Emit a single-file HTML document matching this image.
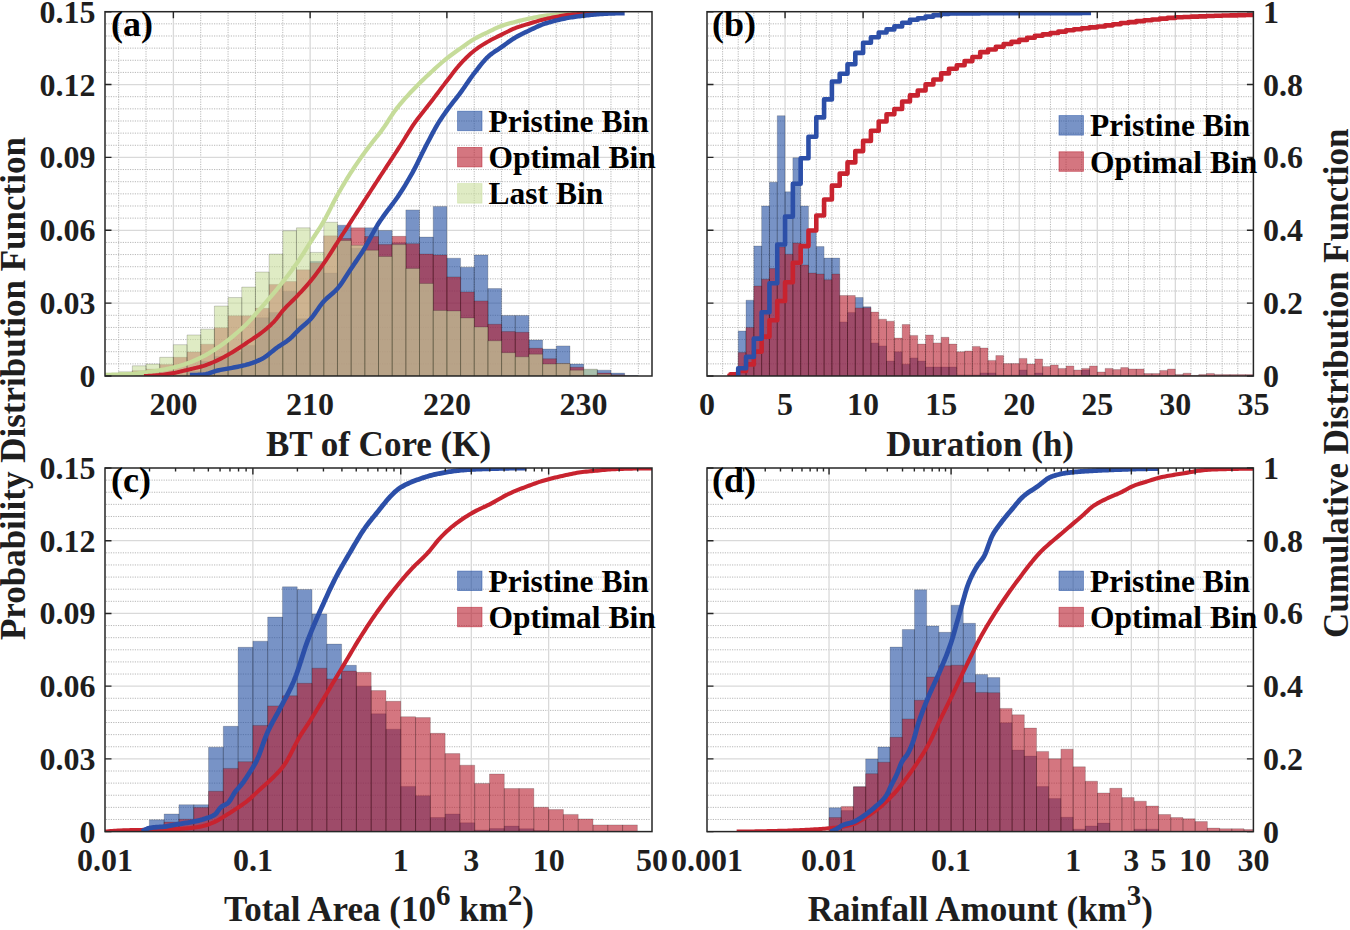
<!DOCTYPE html>
<html><head><meta charset="utf-8"><title>Figure</title>
<style>html,body{margin:0;padding:0;background:#fff;width:1350px;height:930px;overflow:hidden}svg{display:block}</style>
</head><body>
<svg width="1350" height="930" viewBox="0 0 1350 930" font-family="Liberation Serif" font-weight="bold">
<rect width="1350" height="930" fill="#fff"/>
<defs>
<clipPath id="ca"><rect x="105" y="11.7" width="547" height="364.3"/></clipPath>
<clipPath id="cb"><rect x="707" y="11.7" width="546.4" height="364.3"/></clipPath>
<clipPath id="cc"><rect x="105" y="468" width="547" height="363.6"/></clipPath>
<clipPath id="cd"><rect x="707" y="468" width="546.4" height="363.6"/></clipPath>
</defs>
<g stroke="#b8b8b8" stroke-width="1" stroke-dasharray="1.2 1.2" fill="none"><line x1="106" y1="363.86" x2="650" y2="363.86"/><line x1="106" y1="351.71" x2="650" y2="351.71"/><line x1="106" y1="339.57" x2="650" y2="339.57"/><line x1="106" y1="327.43" x2="650" y2="327.43"/><line x1="106" y1="315.28" x2="650" y2="315.28"/><line x1="106" y1="291" x2="650" y2="291"/><line x1="106" y1="278.85" x2="650" y2="278.85"/><line x1="106" y1="266.71" x2="650" y2="266.71"/><line x1="106" y1="254.57" x2="650" y2="254.57"/><line x1="106" y1="242.42" x2="650" y2="242.42"/><line x1="106" y1="218.14" x2="650" y2="218.14"/><line x1="106" y1="205.99" x2="650" y2="205.99"/><line x1="106" y1="193.85" x2="650" y2="193.85"/><line x1="106" y1="181.71" x2="650" y2="181.71"/><line x1="106" y1="169.56" x2="650" y2="169.56"/><line x1="106" y1="145.28" x2="650" y2="145.28"/><line x1="106" y1="133.13" x2="650" y2="133.13"/><line x1="106" y1="120.99" x2="650" y2="120.99"/><line x1="106" y1="108.85" x2="650" y2="108.85"/><line x1="106" y1="96.7" x2="650" y2="96.7"/><line x1="106" y1="72.42" x2="650" y2="72.42"/><line x1="106" y1="60.27" x2="650" y2="60.27"/><line x1="106" y1="48.13" x2="650" y2="48.13"/><line x1="106" y1="35.99" x2="650" y2="35.99"/><line x1="106" y1="23.84" x2="650" y2="23.84"/><line x1="118.67" y1="12.7" x2="118.67" y2="375"/><line x1="146.03" y1="12.7" x2="146.03" y2="375"/><line x1="200.72" y1="12.7" x2="200.72" y2="375"/><line x1="228.07" y1="12.7" x2="228.07" y2="375"/><line x1="255.43" y1="12.7" x2="255.43" y2="375"/><line x1="282.77" y1="12.7" x2="282.77" y2="375"/><line x1="337.48" y1="12.7" x2="337.48" y2="375"/><line x1="364.82" y1="12.7" x2="364.82" y2="375"/><line x1="392.18" y1="12.7" x2="392.18" y2="375"/><line x1="419.52" y1="12.7" x2="419.52" y2="375"/><line x1="474.23" y1="12.7" x2="474.23" y2="375"/><line x1="501.57" y1="12.7" x2="501.57" y2="375"/><line x1="528.92" y1="12.7" x2="528.92" y2="375"/><line x1="556.27" y1="12.7" x2="556.27" y2="375"/><line x1="610.98" y1="12.7" x2="610.98" y2="375"/><line x1="638.33" y1="12.7" x2="638.33" y2="375"/></g>
<g stroke="#d9d9d9" stroke-width="1.3" fill="none"><line x1="106" y1="303.14" x2="650" y2="303.14"/><line x1="106" y1="230.28" x2="650" y2="230.28"/><line x1="106" y1="157.42" x2="650" y2="157.42"/><line x1="106" y1="84.56" x2="650" y2="84.56"/><line x1="173.38" y1="12.7" x2="173.38" y2="375"/><line x1="310.12" y1="12.7" x2="310.12" y2="375"/><line x1="446.88" y1="12.7" x2="446.88" y2="375"/><line x1="583.62" y1="12.7" x2="583.62" y2="375"/></g>
<g clip-path="url(#ca)">
<path d="M173.38 376V374.79H187.05V376ZM187.05 376V371.14H200.72V376ZM200.72 376V361.43H214.4V376ZM214.4 376V356.57H228.07V376ZM228.07 376V351.71H241.75V376ZM241.75 376V345.4H255.43V376ZM255.43 376V317.71H269.1V376ZM269.1 376V312.61H282.77V376ZM282.77 376V291.24H296.45V376ZM296.45 376V318.68H310.12V376ZM310.12 376V261.37H323.8V376ZM323.8 376V273.02H337.48V376ZM337.48 376V225.18H351.15V376ZM351.15 376V248.25H364.82V376ZM364.82 376V227.85H378.5V376ZM378.5 376V230.52H392.18V376ZM392.18 376V242.67H405.85V376ZM405.85 376V209.88H419.52V376ZM419.52 376V237.08H433.2V376ZM433.2 376V206.48H446.88V376ZM446.88 376V258.21H460.55V376ZM460.55 376V267.2H474.23V376ZM474.23 376V255.05H487.9V376ZM487.9 376V288.57H501.57V376ZM501.57 376V315.53H515.25V376ZM515.25 376V315.53H528.92V376ZM528.92 376V340.06H542.6V376ZM542.6 376V349.04H556.27V376ZM556.27 376V345.88H569.95V376ZM569.95 376V364.1H583.62V376ZM583.62 376V369.69H597.3V376ZM597.3 376V370.17H610.98V376ZM610.98 376V373.09H624.65V376ZM624.65 376V375.51H638.33V376Z" fill="#1e4ba0" fill-opacity="0.6" stroke="#000" stroke-opacity="0.2" stroke-width="0.9"/>
<path d="M118.67 376V375.03H132.35V376ZM132.35 376V370.66H146.03V376ZM146.03 376V369.2H159.7V376ZM159.7 376V364.59H173.38V376ZM173.38 376V357.3H187.05V376ZM187.05 376V351.96H200.72V376ZM200.72 376V344.18H214.4V376ZM214.4 376V327.67H228.07V376ZM228.07 376V315.77H241.75V376ZM241.75 376V315.77H255.43V376ZM255.43 376V308.24H269.1V376ZM269.1 376V284.44H282.77V376ZM282.77 376V281.52H296.45V376ZM296.45 376V269.87H310.12V376ZM310.12 376V262.82H323.8V376ZM323.8 376V235.87H337.48V376ZM337.48 376V238.54H351.15V376ZM351.15 376V227.85H364.82V376ZM364.82 376V236.59H378.5V376ZM378.5 376V244.61H392.18V376ZM392.18 376V236.35H405.85V376ZM405.85 376V243.64H419.52V376ZM419.52 376V254.08H433.2V376ZM433.2 376V255.05H446.88V376ZM446.88 376V276.91H460.55V376ZM460.55 376V291.97H474.23V376ZM474.23 376V300.95H487.9V376ZM487.9 376V324.27H501.57V376ZM501.57 376V331.56H515.25V376ZM515.25 376V332.28H528.92V376ZM528.92 376V348.31H542.6V376ZM542.6 376V358.76H556.27V376ZM556.27 376V363.61H569.95V376ZM569.95 376V367.26H583.62V376ZM583.62 376V375.03H597.3V376ZM597.3 376V373.09H610.98V376ZM610.98 376V374.79H624.65V376Z" fill="#b71b2b" fill-opacity="0.6" stroke="#000" stroke-opacity="0.2" stroke-width="0.9"/>
<path d="M105 376V373.33H118.67V376ZM118.67 376V371.87H132.35V376ZM132.35 376V365.8H146.03V376ZM146.03 376V364.1H159.7V376ZM159.7 376V357.3H173.38V376ZM173.38 376V344.67H187.05V376ZM187.05 376V334.96H200.72V376ZM200.72 376V329.13H214.4V376ZM214.4 376V306.05H228.07V376ZM228.07 376V297.55H241.75V376ZM241.75 376V287.11H255.43V376ZM255.43 376V272.05H269.1V376ZM269.1 376V254.08H282.77V376ZM282.77 376V230.77H296.45V376ZM296.45 376V227.85H310.12V376ZM310.12 376V252.38H323.8V376ZM323.8 376V222.27H337.48V376ZM337.48 376V240.48H351.15V376ZM351.15 376V245.34H364.82V376ZM364.82 376V250.2H378.5V376ZM378.5 376V256.51H392.18V376ZM392.18 376V244.61H405.85V376ZM405.85 376V268.41H419.52V376ZM419.52 376V283.47H433.2V376ZM433.2 376V310.43H446.88V376ZM446.88 376V310.91H460.55V376ZM460.55 376V317.95H474.23V376ZM474.23 376V326.94H487.9V376ZM487.9 376V340.78H501.57V376ZM501.57 376V352.68H515.25V376ZM515.25 376V356.81H528.92V376ZM528.92 376V354.14H542.6V376ZM542.6 376V364.1H556.27V376ZM556.27 376V363.61H569.95V376ZM569.95 376V370.17H583.62V376ZM583.62 376V369.2H597.3V376ZM597.3 376V374.3H610.98V376ZM610.98 376V375.51H624.65V376Z" fill="#cade9d" fill-opacity="0.6" stroke="#000" stroke-opacity="0.2" stroke-width="0.9"/>
<path d="M105.41 374.8 L107.12 374.79 L108.84 374.78 L110.55 374.76 L112.27 374.72 L113.98 374.69 L115.69 374.64 L117.41 374.59 L119.12 374.53 L120.83 374.47 L122.55 374.4 L124.26 374.33 L125.97 374.25 L127.69 374.18 L129.4 374.1 L131.12 373.99 L132.83 373.86 L134.54 373.71 L136.26 373.53 L137.97 373.34 L139.68 373.14 L141.4 372.93 L143.11 372.72 L144.83 372.51 L146.54 372.29 L148.25 372.06 L149.97 371.81 L151.68 371.56 L153.39 371.29 L155.11 371.02 L156.82 370.74 L158.54 370.45 L160.25 370.15 L161.96 369.84 L163.68 369.53 L165.39 369.2 L167.1 368.85 L168.82 368.5 L170.53 368.12 L172.25 367.73 L173.96 367.33 L175.67 366.9 L177.39 366.45 L179.1 365.98 L180.81 365.48 L182.53 364.96 L184.24 364.42 L185.96 363.85 L187.67 363.26 L189.38 362.64 L191.1 361.98 L192.81 361.29 L194.52 360.55 L196.24 359.79 L197.95 358.99 L199.66 358.16 L201.38 357.32 L203.09 356.45 L204.81 355.55 L206.52 354.61 L208.23 353.63 L209.95 352.61 L211.66 351.57 L213.37 350.49 L215.09 349.39 L216.8 348.26 L218.52 347.12 L220.23 345.94 L221.94 344.73 L223.66 343.48 L225.37 342.2 L227.08 340.89 L228.8 339.56 L230.51 338.2 L232.23 336.81 L233.94 335.4 L235.65 333.97 L237.37 332.51 L239.08 331.02 L240.79 329.49 L242.51 327.93 L244.22 326.32 L245.94 324.67 L247.65 322.98 L249.36 321.2 L251.08 319.32 L252.79 317.38 L254.5 315.4 L256.22 313.41 L257.93 311.42 L259.65 309.46 L261.36 307.53 L263.07 305.59 L264.79 303.65 L266.5 301.7 L268.21 299.72 L269.93 297.71 L271.64 295.67 L273.35 293.62 L275.07 291.55 L276.78 289.46 L278.5 287.35 L280.21 285.22 L281.92 283.06 L283.64 280.88 L285.35 278.69 L287.06 276.48 L288.78 274.25 L290.49 271.99 L292.21 269.7 L293.92 267.36 L295.63 264.98 L297.35 262.53 L299.06 260.01 L300.77 257.42 L302.49 254.77 L304.2 252.08 L305.92 249.37 L307.63 246.66 L309.34 243.96 L311.06 241.28 L312.77 238.64 L314.48 236.02 L316.2 233.41 L317.91 230.76 L319.63 228.07 L321.34 225.31 L323.05 222.45 L324.77 219.47 L326.48 216.3 L328.19 212.99 L329.91 209.6 L331.62 206.18 L333.33 202.77 L335.05 199.44 L336.76 196.23 L338.48 193.17 L340.19 190.17 L341.9 187.22 L343.62 184.32 L345.33 181.47 L347.04 178.66 L348.76 175.9 L350.47 173.19 L352.19 170.53 L353.9 167.91 L355.61 165.34 L357.33 162.82 L359.04 160.34 L360.75 157.9 L362.47 155.49 L364.18 153.11 L365.9 150.76 L367.61 148.43 L369.32 146.15 L371.04 143.94 L372.75 141.78 L374.46 139.65 L376.18 137.52 L377.89 135.37 L379.61 133.18 L381.32 130.93 L383.03 128.6 L384.75 126.13 L386.46 123.54 L388.17 120.89 L389.89 118.22 L391.6 115.59 L393.32 113.04 L395.03 110.63 L396.74 108.39 L398.46 106.23 L400.17 104.13 L401.88 102.1 L403.6 100.12 L405.31 98.18 L407.02 96.28 L408.74 94.4 L410.45 92.55 L412.17 90.73 L413.88 88.93 L415.59 87.17 L417.31 85.43 L419.02 83.72 L420.73 82.04 L422.45 80.37 L424.16 78.72 L425.88 77.09 L427.59 75.48 L429.3 73.87 L431.02 72.27 L432.73 70.68 L434.44 69.1 L436.16 67.53 L437.87 65.99 L439.59 64.47 L441.3 62.97 L443.01 61.51 L444.73 60.08 L446.44 58.68 L448.15 57.32 L449.87 56 L451.58 54.72 L453.3 53.47 L455.01 52.23 L456.72 51.02 L458.44 49.81 L460.15 48.6 L461.86 47.39 L463.58 46.17 L465.29 44.94 L467.01 43.73 L468.72 42.54 L470.43 41.38 L472.15 40.28 L473.86 39.24 L475.57 38.26 L477.29 37.32 L479 36.43 L480.71 35.57 L482.43 34.73 L484.14 33.91 L485.86 33.09 L487.57 32.28 L489.28 31.47 L491 30.64 L492.71 29.8 L494.42 28.97 L496.14 28.17 L497.85 27.4 L499.57 26.67 L501.28 26.01 L502.99 25.42 L504.71 24.86 L506.42 24.33 L508.13 23.82 L509.85 23.34 L511.56 22.88 L513.28 22.42 L514.99 21.97 L516.7 21.52 L518.42 21.08 L520.13 20.65 L521.84 20.23 L523.56 19.82 L525.27 19.42 L526.99 19.04 L528.7 18.67 L530.41 18.31 L532.13 17.95 L533.84 17.6 L535.55 17.26 L537.27 16.94 L538.98 16.63 L540.7 16.35 L542.41 16.1 L544.12 15.87 L545.84 15.65 L547.55 15.43 L549.26 15.24 L550.98 15.05 L552.69 14.89 L554.4 14.74 L556.12 14.62 L557.83 14.52 L559.55 14.43 L561.26 14.34 L562.97 14.26 L564.69 14.18 L566.4 14.11 L568.11 14.05 L569.83 13.98 L571.54 13.92 L573.26 13.87 L574.97 13.81 L576.68 13.75 L578.4 13.7 L580.11 13.64 L581.82 13.58 L583.54 13.52 L585.25 13.46 L586.97 13.4 L588.68 13.34 L590.39 13.28 L592.11 13.23 L593.82 13.17 L595.53 13.11 L597.25 13.05 L598.96 13 L600.68 12.94 L602.39 12.89 L604.1 12.83 L605.82 12.78 L607.53 12.73 L609.24 12.68 L610.96 12.62 L612.67 12.57 L614.39 12.52 L616.1 12.48 L617.81 12.43" fill="none" stroke="#c6dc9a" stroke-width="4.2" stroke-linejoin="round" stroke-linecap="butt"/>
<path d="M143.97 376 L145.54 375.96 L147.12 375.9 L148.69 375.82 L150.26 375.74 L151.83 375.64 L153.4 375.53 L154.97 375.41 L156.54 375.28 L158.11 375.15 L159.68 375.02 L161.26 374.86 L162.83 374.68 L164.4 374.48 L165.97 374.26 L167.54 374.03 L169.11 373.78 L170.68 373.52 L172.25 373.26 L173.82 372.98 L175.39 372.69 L176.97 372.36 L178.54 372.01 L180.11 371.64 L181.68 371.26 L183.25 370.87 L184.82 370.47 L186.39 370.08 L187.96 369.7 L189.53 369.32 L191.1 368.96 L192.68 368.6 L194.25 368.25 L195.82 367.88 L197.39 367.51 L198.96 367.12 L200.53 366.71 L202.1 366.27 L203.67 365.8 L205.24 365.29 L206.81 364.75 L208.39 364.16 L209.96 363.55 L211.53 362.91 L213.1 362.25 L214.67 361.56 L216.24 360.86 L217.81 360.14 L219.38 359.4 L220.95 358.62 L222.52 357.8 L224.1 356.96 L225.67 356.09 L227.24 355.2 L228.81 354.29 L230.38 353.36 L231.95 352.43 L233.52 351.48 L235.09 350.52 L236.66 349.52 L238.24 348.5 L239.81 347.47 L241.38 346.42 L242.95 345.36 L244.52 344.3 L246.09 343.23 L247.66 342.17 L249.23 341.12 L250.8 340.09 L252.37 339.06 L253.95 338.02 L255.52 336.97 L257.09 335.9 L258.66 334.81 L260.23 333.67 L261.8 332.49 L263.37 331.26 L264.94 329.99 L266.51 328.68 L268.08 327.33 L269.66 325.91 L271.23 324.44 L272.8 322.9 L274.37 321.28 L275.94 319.49 L277.51 317.51 L279.08 315.43 L280.65 313.35 L282.22 311.36 L283.79 309.53 L285.37 307.83 L286.94 306.19 L288.51 304.61 L290.08 303.06 L291.65 301.52 L293.22 299.97 L294.79 298.4 L296.36 296.78 L297.93 295.12 L299.51 293.45 L301.08 291.78 L302.65 290.09 L304.22 288.37 L305.79 286.63 L307.36 284.85 L308.93 283.03 L310.5 281.16 L312.07 279.23 L313.64 277.25 L315.22 275.22 L316.79 273.15 L318.36 271.03 L319.93 268.88 L321.5 266.69 L323.07 264.47 L324.64 262.22 L326.21 259.89 L327.78 257.51 L329.35 255.07 L330.93 252.61 L332.5 250.13 L334.07 247.64 L335.64 245.16 L337.21 242.71 L338.78 240.28 L340.35 237.86 L341.92 235.43 L343.49 233 L345.06 230.57 L346.64 228.15 L348.21 225.72 L349.78 223.29 L351.35 220.87 L352.92 218.44 L354.49 216.01 L356.06 213.58 L357.63 211.16 L359.2 208.73 L360.78 206.3 L362.35 203.87 L363.92 201.45 L365.49 199.02 L367.06 196.59 L368.63 194.16 L370.2 191.73 L371.77 189.29 L373.34 186.86 L374.91 184.44 L376.49 182.01 L378.06 179.6 L379.63 177.18 L381.2 174.78 L382.77 172.38 L384.34 169.99 L385.91 167.61 L387.48 165.22 L389.05 162.84 L390.62 160.45 L392.2 158.06 L393.77 155.66 L395.34 153.26 L396.91 150.85 L398.48 148.43 L400.05 146 L401.62 143.53 L403.19 141.01 L404.76 138.46 L406.33 135.91 L407.91 133.36 L409.48 130.84 L411.05 128.36 L412.62 125.95 L414.19 123.63 L415.76 121.4 L417.33 119.26 L418.9 117.19 L420.47 115.17 L422.05 113.19 L423.62 111.24 L425.19 109.29 L426.76 107.33 L428.33 105.36 L429.9 103.34 L431.47 101.29 L433.04 99.22 L434.61 97.13 L436.18 95.04 L437.76 92.94 L439.33 90.84 L440.9 88.75 L442.47 86.67 L444.04 84.6 L445.61 82.55 L447.18 80.52 L448.75 78.48 L450.32 76.42 L451.89 74.36 L453.47 72.31 L455.04 70.3 L456.61 68.33 L458.18 66.43 L459.75 64.62 L461.32 62.89 L462.89 61.22 L464.46 59.59 L466.03 58.01 L467.6 56.47 L469.18 54.99 L470.75 53.57 L472.32 52.22 L473.89 50.94 L475.46 49.74 L477.03 48.59 L478.6 47.48 L480.17 46.42 L481.74 45.4 L483.31 44.41 L484.89 43.45 L486.46 42.52 L488.03 41.61 L489.6 40.71 L491.17 39.85 L492.74 39.03 L494.31 38.22 L495.88 37.44 L497.45 36.67 L499.03 35.9 L500.6 35.13 L502.17 34.36 L503.74 33.56 L505.31 32.76 L506.88 31.96 L508.45 31.16 L510.02 30.39 L511.59 29.65 L513.16 28.95 L514.74 28.29 L516.31 27.7 L517.88 27.14 L519.45 26.61 L521.02 26.11 L522.59 25.62 L524.16 25.15 L525.73 24.68 L527.3 24.21 L528.87 23.74 L530.45 23.25 L532.02 22.77 L533.59 22.28 L535.16 21.8 L536.73 21.33 L538.3 20.87 L539.87 20.43 L541.44 20.01 L543.01 19.61 L544.58 19.24 L546.16 18.87 L547.73 18.52 L549.3 18.18 L550.87 17.85 L552.44 17.53 L554.01 17.22 L555.58 16.93 L557.15 16.64 L558.72 16.35 L560.3 16.06 L561.87 15.77 L563.44 15.5 L565.01 15.25 L566.58 15.01 L568.15 14.81 L569.72 14.64 L571.29 14.49 L572.86 14.36 L574.43 14.25 L576.01 14.14 L577.58 14.04 L579.15 13.95 L580.72 13.86 L582.29 13.77 L583.86 13.69 L585.43 13.61 L587 13.53 L588.57 13.44 L590.14 13.37 L591.72 13.29 L593.29 13.21 L594.86 13.14 L596.43 13.06 L598 12.99 L599.57 12.92 L601.14 12.86 L602.71 12.79 L604.28 12.73 L605.85 12.67 L607.43 12.62 L609 12.57 L610.57 12.52 L612.14 12.47 L613.71 12.43" fill="none" stroke="#c8232f" stroke-width="4.0" stroke-linejoin="round" stroke-linecap="butt"/>
<path d="M189.92 375.09 L191.38 375.08 L192.83 375.06 L194.28 375.02 L195.74 374.97 L197.19 374.91 L198.65 374.84 L200.1 374.75 L201.55 374.66 L203.01 374.56 L204.46 374.42 L205.92 374.16 L207.37 373.81 L208.82 373.38 L210.28 372.89 L211.73 372.38 L213.18 371.87 L214.64 371.37 L216.09 370.91 L217.55 370.52 L219 370.19 L220.45 369.9 L221.91 369.62 L223.36 369.36 L224.82 369.11 L226.27 368.87 L227.72 368.63 L229.18 368.38 L230.63 368.12 L232.09 367.85 L233.54 367.56 L234.99 367.27 L236.45 366.98 L237.9 366.69 L239.36 366.4 L240.81 366.09 L242.26 365.77 L243.72 365.43 L245.17 365.08 L246.63 364.69 L248.08 364.29 L249.53 363.85 L250.99 363.38 L252.44 362.89 L253.9 362.36 L255.35 361.8 L256.8 361.2 L258.26 360.57 L259.71 359.91 L261.16 359.21 L262.62 358.47 L264.07 357.64 L265.53 356.69 L266.98 355.64 L268.43 354.52 L269.89 353.34 L271.34 352.14 L272.8 350.93 L274.25 349.74 L275.7 348.59 L277.16 347.51 L278.61 346.5 L280.07 345.54 L281.52 344.6 L282.97 343.68 L284.43 342.75 L285.88 341.77 L287.34 340.75 L288.79 339.65 L290.24 338.43 L291.7 337.08 L293.15 335.63 L294.61 334.12 L296.06 332.58 L297.51 331.07 L298.97 329.61 L300.42 328.24 L301.88 326.96 L303.33 325.72 L304.78 324.49 L306.24 323.25 L307.69 321.94 L309.14 320.54 L310.6 319.02 L312.05 317.29 L313.51 315.39 L314.96 313.37 L316.41 311.28 L317.87 309.16 L319.32 307.07 L320.78 305.05 L322.23 303.16 L323.68 301.45 L325.14 299.92 L326.59 298.52 L328.05 297.22 L329.5 295.97 L330.95 294.75 L332.41 293.51 L333.86 292.23 L335.32 290.85 L336.77 289.35 L338.22 287.69 L339.68 285.85 L341.13 283.87 L342.59 281.76 L344.04 279.56 L345.49 277.31 L346.95 275.03 L348.4 272.74 L349.86 270.49 L351.31 268.29 L352.76 266.14 L354.22 264.01 L355.67 261.87 L357.12 259.73 L358.58 257.57 L360.03 255.38 L361.49 253.15 L362.94 250.87 L364.39 248.53 L365.85 246.08 L367.3 243.51 L368.76 240.86 L370.21 238.15 L371.66 235.43 L373.12 232.73 L374.57 230.07 L376.03 227.51 L377.48 225.07 L378.93 222.77 L380.39 220.56 L381.84 218.44 L383.3 216.38 L384.75 214.37 L386.2 212.4 L387.66 210.47 L389.11 208.55 L390.57 206.63 L392.02 204.71 L393.47 202.76 L394.93 200.78 L396.38 198.76 L397.84 196.67 L399.29 194.52 L400.74 192.29 L402.2 190.02 L403.65 187.7 L405.1 185.33 L406.56 182.92 L408.01 180.47 L409.47 177.96 L410.92 175.41 L412.37 172.81 L413.83 170.14 L415.28 167.35 L416.74 164.47 L418.19 161.53 L419.64 158.55 L421.1 155.56 L422.55 152.59 L424.01 149.66 L425.46 146.81 L426.91 144.02 L428.37 141.21 L429.82 138.41 L431.28 135.63 L432.73 132.89 L434.18 130.2 L435.64 127.58 L437.09 125.06 L438.55 122.65 L440 120.35 L441.45 118.15 L442.91 116.03 L444.36 113.96 L445.82 111.94 L447.27 109.94 L448.72 107.95 L450.18 106 L451.63 104.09 L453.09 102.22 L454.54 100.37 L455.99 98.52 L457.45 96.66 L458.9 94.77 L460.35 92.84 L461.81 90.86 L463.26 88.81 L464.72 86.72 L466.17 84.6 L467.62 82.48 L469.08 80.37 L470.53 78.29 L471.99 76.26 L473.44 74.29 L474.89 72.4 L476.35 70.51 L477.8 68.62 L479.26 66.75 L480.71 64.91 L482.16 63.13 L483.62 61.4 L485.07 59.77 L486.53 58.23 L487.98 56.82 L489.43 55.53 L490.89 54.35 L492.34 53.25 L493.8 52.22 L495.25 51.23 L496.7 50.28 L498.16 49.33 L499.61 48.37 L501.07 47.39 L502.52 46.37 L503.97 45.33 L505.43 44.27 L506.88 43.21 L508.33 42.16 L509.79 41.13 L511.24 40.12 L512.7 39.15 L514.15 38.23 L515.6 37.36 L517.06 36.54 L518.51 35.75 L519.97 34.99 L521.42 34.25 L522.87 33.54 L524.33 32.83 L525.78 32.14 L527.24 31.45 L528.69 30.76 L530.14 30.06 L531.6 29.35 L533.05 28.64 L534.51 27.94 L535.96 27.25 L537.41 26.57 L538.87 25.93 L540.32 25.32 L541.78 24.75 L543.23 24.23 L544.68 23.73 L546.14 23.26 L547.59 22.81 L549.05 22.37 L550.5 21.96 L551.95 21.56 L553.41 21.17 L554.86 20.8 L556.31 20.43 L557.77 20.08 L559.22 19.73 L560.68 19.39 L562.13 19.06 L563.58 18.74 L565.04 18.44 L566.49 18.15 L567.95 17.88 L569.4 17.62 L570.85 17.38 L572.31 17.16 L573.76 16.95 L575.22 16.75 L576.67 16.56 L578.12 16.37 L579.58 16.19 L581.03 16.02 L582.49 15.84 L583.94 15.67 L585.39 15.5 L586.85 15.32 L588.3 15.15 L589.76 14.98 L591.21 14.81 L592.66 14.66 L594.12 14.52 L595.57 14.39 L597.03 14.27 L598.48 14.17 L599.93 14.07 L601.39 13.98 L602.84 13.9 L604.29 13.82 L605.75 13.74 L607.2 13.67 L608.66 13.61 L610.11 13.55 L611.56 13.5 L613.02 13.45 L614.47 13.4 L615.93 13.36 L617.38 13.31 L618.83 13.27 L620.29 13.24 L621.74 13.21 L623.2 13.18 L624.65 13.16" fill="none" stroke="#2c4fa8" stroke-width="4.5" stroke-linejoin="round" stroke-linecap="butt"/>
</g>
<path d="M105 376h6.5M105 303.14h6.5M105 230.28h6.5M105 157.42h6.5M105 84.56h6.5M105 11.7h6.5M173.38 11.7v6.5M310.12 11.7v6.5M446.88 11.7v6.5M583.62 11.7v6.5" stroke="#262626" stroke-width="1.4" fill="none"/>
<rect x="105" y="11.7" width="547" height="364.3" fill="none" stroke="#262626" stroke-width="1.5"/>
<g>
<rect x="457.6" y="111.2" width="24.4" height="19.5" fill="#1e4ba0" fill-opacity="0.6" stroke="#1e4ba0" stroke-opacity="0.6" stroke-width="0.8"/>
<text x="488.6" y="132" font-size="31.5" text-anchor="start" fill="#000" >Pristine Bin</text>
<rect x="457.6" y="147.4" width="24.4" height="19.5" fill="#b71b2b" fill-opacity="0.6" stroke="#b71b2b" stroke-opacity="0.6" stroke-width="0.8"/>
<text x="488.6" y="168.2" font-size="31.5" text-anchor="start" fill="#000" >Optimal Bin</text>
<rect x="457.6" y="183.6" width="24.4" height="19.5" fill="#cade9d" fill-opacity="0.6" stroke="#cade9d" stroke-opacity="0.6" stroke-width="0.8"/>
<text x="488.6" y="204.4" font-size="31.5" text-anchor="start" fill="#000" >Last Bin</text>
</g>
<text x="111" y="35.5" font-size="36" text-anchor="start" fill="#000" >(a)</text>
<g stroke="#b8b8b8" stroke-width="1" stroke-dasharray="1.2 1.2" fill="none"><line x1="708" y1="363.86" x2="1251.4" y2="363.86"/><line x1="708" y1="351.71" x2="1251.4" y2="351.71"/><line x1="708" y1="339.57" x2="1251.4" y2="339.57"/><line x1="708" y1="327.43" x2="1251.4" y2="327.43"/><line x1="708" y1="315.28" x2="1251.4" y2="315.28"/><line x1="708" y1="291" x2="1251.4" y2="291"/><line x1="708" y1="278.85" x2="1251.4" y2="278.85"/><line x1="708" y1="266.71" x2="1251.4" y2="266.71"/><line x1="708" y1="254.57" x2="1251.4" y2="254.57"/><line x1="708" y1="242.42" x2="1251.4" y2="242.42"/><line x1="708" y1="218.14" x2="1251.4" y2="218.14"/><line x1="708" y1="205.99" x2="1251.4" y2="205.99"/><line x1="708" y1="193.85" x2="1251.4" y2="193.85"/><line x1="708" y1="181.71" x2="1251.4" y2="181.71"/><line x1="708" y1="169.56" x2="1251.4" y2="169.56"/><line x1="708" y1="145.28" x2="1251.4" y2="145.28"/><line x1="708" y1="133.13" x2="1251.4" y2="133.13"/><line x1="708" y1="120.99" x2="1251.4" y2="120.99"/><line x1="708" y1="108.85" x2="1251.4" y2="108.85"/><line x1="708" y1="96.7" x2="1251.4" y2="96.7"/><line x1="708" y1="72.42" x2="1251.4" y2="72.42"/><line x1="708" y1="60.27" x2="1251.4" y2="60.27"/><line x1="708" y1="48.13" x2="1251.4" y2="48.13"/><line x1="708" y1="35.99" x2="1251.4" y2="35.99"/><line x1="708" y1="23.84" x2="1251.4" y2="23.84"/><line x1="722.61" y1="12.7" x2="722.61" y2="375"/><line x1="738.22" y1="12.7" x2="738.22" y2="375"/><line x1="753.83" y1="12.7" x2="753.83" y2="375"/><line x1="769.45" y1="12.7" x2="769.45" y2="375"/><line x1="800.67" y1="12.7" x2="800.67" y2="375"/><line x1="816.28" y1="12.7" x2="816.28" y2="375"/><line x1="831.89" y1="12.7" x2="831.89" y2="375"/><line x1="847.5" y1="12.7" x2="847.5" y2="375"/><line x1="878.73" y1="12.7" x2="878.73" y2="375"/><line x1="894.34" y1="12.7" x2="894.34" y2="375"/><line x1="909.95" y1="12.7" x2="909.95" y2="375"/><line x1="925.56" y1="12.7" x2="925.56" y2="375"/><line x1="956.78" y1="12.7" x2="956.78" y2="375"/><line x1="972.39" y1="12.7" x2="972.39" y2="375"/><line x1="988.01" y1="12.7" x2="988.01" y2="375"/><line x1="1003.62" y1="12.7" x2="1003.62" y2="375"/><line x1="1034.84" y1="12.7" x2="1034.84" y2="375"/><line x1="1050.45" y1="12.7" x2="1050.45" y2="375"/><line x1="1066.06" y1="12.7" x2="1066.06" y2="375"/><line x1="1081.67" y1="12.7" x2="1081.67" y2="375"/><line x1="1112.9" y1="12.7" x2="1112.9" y2="375"/><line x1="1128.51" y1="12.7" x2="1128.51" y2="375"/><line x1="1144.12" y1="12.7" x2="1144.12" y2="375"/><line x1="1159.73" y1="12.7" x2="1159.73" y2="375"/><line x1="1190.95" y1="12.7" x2="1190.95" y2="375"/><line x1="1206.57" y1="12.7" x2="1206.57" y2="375"/><line x1="1222.18" y1="12.7" x2="1222.18" y2="375"/><line x1="1237.79" y1="12.7" x2="1237.79" y2="375"/></g>
<g stroke="#d9d9d9" stroke-width="1.3" fill="none"><line x1="708" y1="303.14" x2="1251.4" y2="303.14"/><line x1="708" y1="230.28" x2="1251.4" y2="230.28"/><line x1="708" y1="157.42" x2="1251.4" y2="157.42"/><line x1="708" y1="84.56" x2="1251.4" y2="84.56"/><line x1="785.06" y1="12.7" x2="785.06" y2="375"/><line x1="863.11" y1="12.7" x2="863.11" y2="375"/><line x1="941.17" y1="12.7" x2="941.17" y2="375"/><line x1="1019.23" y1="12.7" x2="1019.23" y2="375"/><line x1="1097.29" y1="12.7" x2="1097.29" y2="375"/><line x1="1175.34" y1="12.7" x2="1175.34" y2="375"/></g>
<g clip-path="url(#cb)">
<path d="M738.22 376V331H746.03V376ZM746.03 376V300.2H753.83V376ZM753.83 376V246H761.64V376ZM761.64 376V206H769.45V376ZM769.45 376V182.2H777.25V376ZM777.25 376V115.7H785.06V376ZM785.06 376V191.8H792.86V376ZM792.86 376V157.8H800.67V376ZM800.67 376V206H808.47V376ZM808.47 376V229.5H816.28V376ZM816.28 376V246.6H824.09V376ZM824.09 376V258.1H831.89V376ZM831.89 376V258.1H839.7V376ZM839.7 376V321.9H847.5V376ZM847.5 376V312.4H855.31V376ZM855.31 376V297.5H863.11V376ZM863.11 376V306.7H870.92V376ZM870.92 376V342.9H878.73V376ZM878.73 376V345.9H886.53V376ZM886.53 376V361H894.34V376ZM894.34 376V351.8H902.14V376ZM902.14 376V364.2H909.95V376ZM909.95 376V357.9H917.75V376ZM917.75 376V361H925.56V376ZM925.56 376V367H933.37V376ZM933.37 376V367H941.17V376ZM941.17 376V367H948.98V376ZM948.98 376V367H956.78V376ZM956.78 376V374.9H964.59V376ZM964.59 376V374.9H972.39V376ZM972.39 376V374.9H980.2V376ZM980.2 376V372.9H988.01V376ZM988.01 376V372.9H995.81V376ZM995.81 376V375.2H1003.62V376ZM1003.62 376V375.2H1011.42V376ZM1011.42 376V375.2H1019.23V376ZM1019.23 376V370H1027.03V376ZM1027.03 376V375.2H1034.84V376ZM1034.84 376V373H1042.65V376ZM1042.65 376V375.4H1050.45V376ZM1050.45 376V375.4H1058.26V376ZM1058.26 376V375.4H1066.06V376ZM1066.06 376V375.4H1073.87V376ZM1073.87 376V375.4H1081.67V376ZM1081.67 376V370H1089.48V376ZM1089.48 376V375.5H1097.29V376Z" fill="#1e4ba0" fill-opacity="0.6" stroke="#000" stroke-opacity="0.2" stroke-width="0.9"/>
<path d="M738.22 376V352.6H746.03V376ZM746.03 376V327.4H753.83V376ZM753.83 376V286H761.64V376ZM761.64 376V279.2H769.45V376ZM769.45 376V268.6H777.25V376ZM777.25 376V246.9H785.06V376ZM785.06 376V254.2H792.86V376ZM792.86 376V243H800.67V376ZM800.67 376V265H808.47V376ZM808.47 376V273.1H816.28V376ZM816.28 376V274H824.09V376ZM824.09 376V279.8H831.89V376ZM831.89 376V274H839.7V376ZM839.7 376V295.5H847.5V376ZM847.5 376V295.5H855.31V376ZM855.31 376V307.9H863.11V376ZM863.11 376V307.7H870.92V376ZM870.92 376V312.1H878.73V376ZM878.73 376V319.2H886.53V376ZM886.53 376V321.2H894.34V376ZM894.34 376V338.1H902.14V376ZM902.14 376V324.5H909.95V376ZM909.95 376V335.4H917.75V376ZM917.75 376V344.1H925.56V376ZM925.56 376V335H933.37V376ZM933.37 376V342.9H941.17V376ZM941.17 376V337.3H948.98V376ZM948.98 376V344.1H956.78V376ZM956.78 376V351.8H964.59V376ZM964.59 376V351H972.39V376ZM972.39 376V346.4H980.2V376ZM980.2 376V348H988.01V376ZM988.01 376V360.4H995.81V376ZM995.81 376V355.6H1003.62V376ZM1003.62 376V363.6H1011.42V376ZM1011.42 376V363.6H1019.23V376ZM1019.23 376V358.4H1027.03V376ZM1027.03 376V364H1034.84V376ZM1034.84 376V359H1042.65V376ZM1042.65 376V366.4H1050.45V376ZM1050.45 376V365H1058.26V376ZM1058.26 376V368.4H1066.06V376ZM1066.06 376V366H1073.87V376ZM1073.87 376V370H1081.67V376ZM1081.67 376V368.4H1089.48V376ZM1089.48 376V366H1097.29V376ZM1097.29 376V372H1105.09V376ZM1105.09 376V368.4H1112.9V376ZM1112.9 376V369.6H1120.7V376ZM1120.7 376V367.6H1128.51V376ZM1128.51 376V369H1136.31V376ZM1136.31 376V369H1144.12V376ZM1144.12 376V373.6H1151.93V376ZM1151.93 376V373.6H1159.73V376ZM1159.73 376V370.4H1167.54V376ZM1167.54 376V369H1175.34V376ZM1175.34 376V374.4H1183.15V376ZM1183.15 376V373.2H1190.95V376ZM1190.95 376V375.4H1198.76V376ZM1198.76 376V374.4H1206.57V376ZM1206.57 376V373.4H1214.37V376ZM1214.37 376V374.4H1222.18V376ZM1222.18 376V374.6H1229.98V376ZM1229.98 376V374.6H1237.79V376ZM1237.79 376V374.6H1245.59V376ZM1245.59 376V374.6H1253.4V376Z" fill="#b71b2b" fill-opacity="0.6" stroke="#000" stroke-opacity="0.2" stroke-width="0.9"/>
<path d="M727.29 376 L730.42 376 L730.42 374.18 L738.22 374.18 L738.22 370.9 L746.03 370.9 L746.03 364.42 L753.83 364.42 L753.83 351.59 L761.64 351.59 L761.64 336.66 L769.45 336.66 L769.45 320.26 L777.25 320.26 L777.25 300.95 L785.06 300.95 L785.06 282.19 L792.86 282.19 L792.86 262.81 L800.67 262.81 L800.67 246.09 L808.47 246.09 L808.47 230.5 L816.28 230.5 L816.28 215.49 L824.09 215.49 L824.09 199.53 L831.89 199.53 L831.89 185.65 L839.7 185.65 L839.7 173.59 L847.5 173.59 L847.5 162.41 L855.31 162.41 L855.31 151.12 L863.11 151.12 L863.11 140.88 L870.92 140.88 L870.92 130.68 L878.73 130.68 L878.73 121.5 L886.53 121.5 L886.53 114.29 L894.34 114.29 L894.34 109.04 L902.14 109.04 L902.14 101.5 L909.95 101.5 L909.95 95.38 L917.75 95.38 L917.75 90.57 L925.56 90.57 L925.56 84.38 L933.37 84.38 L933.37 79.57 L941.17 79.57 L941.17 73.38 L948.98 73.38 L948.98 68.68 L956.78 68.68 L956.78 65.18 L964.59 65.18 L964.59 61.1 L972.39 61.1 L972.39 56.98 L980.2 56.98 L980.2 52.17 L988.01 52.17 L988.01 49.48 L995.81 49.48 L995.81 46.71 L1003.62 46.71 L1003.62 44.01 L1011.42 44.01 L1011.42 41.9 L1019.23 41.9 L1019.23 39.9 L1027.03 39.9 L1027.03 37.78 L1034.84 37.78 L1034.84 35.78 L1042.65 35.78 L1042.65 34.4 L1050.45 34.4 L1050.45 33.01 L1058.26 33.01 L1058.26 31.59 L1066.06 31.59 L1066.06 30.32 L1073.87 30.32 L1073.87 29.19 L1081.67 29.19 L1081.67 28.28 L1089.48 28.28 L1089.48 27.36 L1097.29 27.36 L1097.29 26.45 L1105.09 26.45 L1105.09 25.36 L1112.9 25.36 L1112.9 24.27 L1120.7 24.27 L1120.7 22.99 L1128.51 22.99 L1128.51 22.08 L1136.31 22.08 L1136.31 21.17 L1144.12 21.17 L1144.12 20.26 L1151.93 20.26 L1151.93 19.53 L1159.73 19.53 L1159.73 18.62 L1167.54 18.62 L1167.54 17.89 L1175.34 17.89 L1175.34 17.31 L1183.15 17.31 L1183.15 16.98 L1190.95 16.98 L1190.95 16.62 L1198.76 16.62 L1198.76 16.36 L1206.57 16.36 L1206.57 16.07 L1214.37 16.07 L1214.37 15.78 L1222.18 15.78 L1222.18 15.53 L1229.98 15.53 L1229.98 15.34 L1237.79 15.34 L1237.79 15.16 L1245.59 15.16 L1245.59 14.98 L1269.01 14.98" fill="none" stroke="#c8232f" stroke-width="4.6" stroke-linejoin="round" stroke-linecap="butt"/>
<path d="M735.88 376 L738.22 376 L738.22 368.2 L746.03 368.2 L746.03 356.91 L753.83 356.91 L753.83 338.59 L761.64 338.59 L761.64 312.28 L769.45 312.28 L769.45 283.21 L777.25 283.21 L777.25 244.49 L785.06 244.49 L785.06 216.62 L792.86 216.62 L792.86 183.8 L800.67 183.8 L800.67 158.29 L808.47 158.29 L808.47 136.8 L816.28 136.8 L816.28 117.38 L824.09 117.38 L824.09 99.39 L831.89 99.39 L831.89 81.57 L839.7 81.57 L839.7 73.78 L847.5 73.78 L847.5 64.2 L855.31 64.2 L855.31 52.9 L863.11 52.9 L863.11 42.7 L870.92 42.7 L870.92 37.2 L878.73 37.2 L878.73 32.5 L886.53 32.5 L886.53 29.4 L894.34 29.4 L894.34 26.38 L902.14 26.38 L902.14 22.77 L909.95 22.77 L909.95 19.79 L917.75 19.79 L917.75 18.29 L925.56 18.29 L925.56 16.58 L933.37 16.58 L933.37 15.09 L941.17 15.09 L941.17 13.89 L948.98 13.89 L948.98 13.41 L956.78 13.41 L956.78 13.34 L980.2 13.34 L980.2 13.27 L1019.23 13.27 L1019.23 13.16 L1034.84 13.16 L1034.84 13.08 L1081.67 13.08 L1081.67 12.98 L1091.04 12.98" fill="none" stroke="#2c4fa8" stroke-width="4.6" stroke-linejoin="round" stroke-linecap="butt"/>
</g>
<path d="M707 376h6.5M707 303.14h6.5M707 230.28h6.5M707 157.42h6.5M707 84.56h6.5M707 11.7h6.5M1253.4 376h-6.5M1253.4 303.14h-6.5M1253.4 230.28h-6.5M1253.4 157.42h-6.5M1253.4 84.56h-6.5M1253.4 11.7h-6.5M785.06 11.7v6.5M863.11 11.7v6.5M941.17 11.7v6.5M1019.23 11.7v6.5M1097.29 11.7v6.5M1175.34 11.7v6.5" stroke="#262626" stroke-width="1.4" fill="none"/>
<rect x="707" y="11.7" width="546.4" height="364.3" fill="none" stroke="#262626" stroke-width="1.5"/>
<g>
<rect x="1059" y="115.6" width="24.4" height="19.5" fill="#1e4ba0" fill-opacity="0.6" stroke="#1e4ba0" stroke-opacity="0.6" stroke-width="0.8"/>
<text x="1090" y="136.4" font-size="31.5" text-anchor="start" fill="#000" >Pristine Bin</text>
<rect x="1059" y="151.8" width="24.4" height="19.5" fill="#b71b2b" fill-opacity="0.6" stroke="#b71b2b" stroke-opacity="0.6" stroke-width="0.8"/>
<text x="1090" y="172.6" font-size="31.5" text-anchor="start" fill="#000" >Optimal Bin</text>
</g>
<text x="712" y="35.5" font-size="36" text-anchor="start" fill="#000" >(b)</text>
<g stroke="#b8b8b8" stroke-width="1" stroke-dasharray="1.2 1.2" fill="none"><line x1="106" y1="819.48" x2="650" y2="819.48"/><line x1="106" y1="807.36" x2="650" y2="807.36"/><line x1="106" y1="795.24" x2="650" y2="795.24"/><line x1="106" y1="783.12" x2="650" y2="783.12"/><line x1="106" y1="771" x2="650" y2="771"/><line x1="106" y1="746.76" x2="650" y2="746.76"/><line x1="106" y1="734.64" x2="650" y2="734.64"/><line x1="106" y1="722.52" x2="650" y2="722.52"/><line x1="106" y1="710.4" x2="650" y2="710.4"/><line x1="106" y1="698.28" x2="650" y2="698.28"/><line x1="106" y1="674.04" x2="650" y2="674.04"/><line x1="106" y1="661.92" x2="650" y2="661.92"/><line x1="106" y1="649.8" x2="650" y2="649.8"/><line x1="106" y1="637.68" x2="650" y2="637.68"/><line x1="106" y1="625.56" x2="650" y2="625.56"/><line x1="106" y1="601.32" x2="650" y2="601.32"/><line x1="106" y1="589.2" x2="650" y2="589.2"/><line x1="106" y1="577.08" x2="650" y2="577.08"/><line x1="106" y1="564.96" x2="650" y2="564.96"/><line x1="106" y1="552.84" x2="650" y2="552.84"/><line x1="106" y1="528.6" x2="650" y2="528.6"/><line x1="106" y1="516.48" x2="650" y2="516.48"/><line x1="106" y1="504.36" x2="650" y2="504.36"/><line x1="106" y1="492.24" x2="650" y2="492.24"/><line x1="106" y1="480.12" x2="650" y2="480.12"/></g>
<g stroke="#d9d9d9" stroke-width="1.3" fill="none"><line x1="106" y1="758.88" x2="650" y2="758.88"/><line x1="106" y1="686.16" x2="650" y2="686.16"/><line x1="106" y1="613.44" x2="650" y2="613.44"/><line x1="106" y1="540.72" x2="650" y2="540.72"/><line x1="252.88" y1="469" x2="252.88" y2="830.6"/><line x1="400.76" y1="469" x2="400.76" y2="830.6"/><line x1="471.31" y1="469" x2="471.31" y2="830.6"/><line x1="548.64" y1="469" x2="548.64" y2="830.6"/></g>
<g clip-path="url(#cc)">
<path d="M149.36 831.6V819.8H164.15V831.6ZM164.15 831.6V814H178.94V831.6ZM178.94 831.6V804.7H193.73V831.6ZM193.73 831.6V804.7H208.52V831.6ZM208.52 831.6V747.2H223.3V831.6ZM223.3 831.6V726.3H238.09V831.6ZM238.09 831.6V647.3H252.88V831.6ZM252.88 831.6V641.2H267.67V831.6ZM267.67 831.6V617.1H282.45V831.6ZM282.45 831.6V586.8H297.24V831.6ZM297.24 831.6V589.5H312.03V831.6ZM312.03 831.6V614H326.82V831.6ZM326.82 831.6V644.1H341.61V831.6ZM341.61 831.6V665.3H356.39V831.6ZM356.39 831.6V686.2H371.18V831.6ZM371.18 831.6V713.8H385.97V831.6ZM385.97 831.6V729.2H400.76V831.6ZM400.76 831.6V786.4H415.55V831.6ZM415.55 831.6V795.7H430.33V831.6ZM430.33 831.6V817.5H445.12V831.6ZM445.12 831.6V814H459.91V831.6ZM459.91 831.6V822.8H474.7V831.6ZM474.7 831.6V830H489.49V831.6ZM489.49 831.6V828.6H504.27V831.6ZM504.27 831.6V826.1H519.06V831.6ZM519.06 831.6V828.7H533.85V831.6ZM533.85 831.6V830.5H548.64V831.6Z" fill="#1e4ba0" fill-opacity="0.6" stroke="#000" stroke-opacity="0.2" stroke-width="0.9"/>
<path d="M105 831.6V830.5H119.79V831.6ZM119.79 831.6V829.1H134.58V831.6ZM134.58 831.6V830H149.36V831.6ZM149.36 831.6V827H164.15V831.6ZM164.15 831.6V822.1H178.94V831.6ZM178.94 831.6V819.2H193.73V831.6ZM193.73 831.6V807.6H208.52V831.6ZM208.52 831.6V791.3H223.3V831.6ZM223.3 831.6V768.4H238.09V831.6ZM238.09 831.6V761.7H252.88V831.6ZM252.88 831.6V725.4H267.67V831.6ZM267.67 831.6V705.9H282.45V831.6ZM282.45 831.6V695.8H297.24V831.6ZM297.24 831.6V683.3H312.03V831.6ZM312.03 831.6V668.2H326.82V831.6ZM326.82 831.6V678.9H341.61V831.6ZM341.61 831.6V671.1H356.39V831.6ZM356.39 831.6V672.3H371.18V831.6ZM371.18 831.6V690.6H385.97V831.6ZM385.97 831.6V701.3H400.76V831.6ZM400.76 831.6V716.7H415.55V831.6ZM415.55 831.6V717.6H430.33V831.6ZM430.33 831.6V733.3H445.12V831.6ZM445.12 831.6V753.6H459.91V831.6ZM459.91 831.6V765.2H474.7V831.6ZM474.7 831.6V783.5H489.49V831.6ZM489.49 831.6V774H504.27V831.6ZM504.27 831.6V788.5H519.06V831.6ZM519.06 831.6V788.5H533.85V831.6ZM533.85 831.6V807.2H548.64V831.6ZM548.64 831.6V809.6H563.42V831.6ZM563.42 831.6V814.4H578.21V831.6ZM578.21 831.6V818.9H593V831.6ZM593 831.6V824.9H607.79V831.6ZM607.79 831.6V824.9H622.58V831.6ZM622.58 831.6V824.9H637.36V831.6Z" fill="#b71b2b" fill-opacity="0.6" stroke="#000" stroke-opacity="0.2" stroke-width="0.9"/>
<path d="M105 831.6 L106.83 831.44 L108.66 831.27 L110.49 831.12 L112.32 830.97 L114.15 830.83 L115.98 830.71 L117.81 830.6 L119.64 830.52 L121.47 830.44 L123.29 830.38 L125.12 830.32 L126.95 830.27 L128.78 830.22 L130.61 830.17 L132.44 830.13 L134.27 830.09 L136.1 830.05 L137.93 830.01 L139.76 829.97 L141.59 829.93 L143.42 829.89 L145.25 829.84 L147.08 829.79 L148.91 829.74 L150.74 829.69 L152.57 829.65 L154.4 829.6 L156.22 829.56 L158.05 829.52 L159.88 829.47 L161.71 829.43 L163.54 829.39 L165.37 829.34 L167.2 829.29 L169.03 829.24 L170.86 829.18 L172.69 829.13 L174.52 829.06 L176.35 828.99 L178.18 828.92 L180.01 828.84 L181.84 828.75 L183.67 828.65 L185.5 828.53 L187.33 828.37 L189.15 828.19 L190.98 827.99 L192.81 827.75 L194.64 827.5 L196.47 827.22 L198.3 826.92 L200.13 826.61 L201.96 826.26 L203.79 825.82 L205.62 825.31 L207.45 824.73 L209.28 824.1 L211.11 823.42 L212.94 822.7 L214.77 821.87 L216.6 820.92 L218.43 819.89 L220.26 818.8 L222.08 817.69 L223.91 816.58 L225.74 815.49 L227.57 814.37 L229.4 813.22 L231.23 812.05 L233.06 810.85 L234.89 809.65 L236.72 808.42 L238.55 807.2 L240.38 805.97 L242.21 804.72 L244.04 803.43 L245.87 802.09 L247.7 800.69 L249.53 799.19 L251.36 797.57 L253.19 795.87 L255.01 794.13 L256.84 792.37 L258.67 790.63 L260.5 788.95 L262.33 787.32 L264.16 785.71 L265.99 784.08 L267.82 782.4 L269.65 780.65 L271.48 778.91 L273.31 777.16 L275.14 775.37 L276.97 773.53 L278.8 771.6 L280.63 769.54 L282.46 767.34 L284.29 764.95 L286.12 762.2 L287.94 759.08 L289.77 755.7 L291.6 752.14 L293.43 748.49 L295.26 744.86 L297.09 741.34 L298.92 738.01 L300.75 734.96 L302.58 732.08 L304.41 729.32 L306.24 726.6 L308.07 723.88 L309.9 721.1 L311.73 718.21 L313.56 715.27 L315.39 712.28 L317.22 709.27 L319.05 706.22 L320.87 703.17 L322.7 700.1 L324.53 697.03 L326.36 693.97 L328.19 690.92 L330.02 687.87 L331.85 684.8 L333.68 681.74 L335.51 678.66 L337.34 675.59 L339.17 672.52 L341 669.45 L342.83 666.39 L344.66 663.33 L346.49 660.26 L348.32 657.18 L350.15 654.09 L351.98 651 L353.8 647.93 L355.63 644.89 L357.46 641.87 L359.29 638.9 L361.12 635.99 L362.95 633.12 L364.78 630.27 L366.61 627.44 L368.44 624.65 L370.27 621.89 L372.1 619.17 L373.93 616.48 L375.76 613.84 L377.59 611.24 L379.42 608.69 L381.25 606.18 L383.08 603.7 L384.91 601.26 L386.73 598.85 L388.56 596.47 L390.39 594.13 L392.22 591.81 L394.05 589.51 L395.88 587.24 L397.71 584.99 L399.54 582.76 L401.37 580.55 L403.2 578.38 L405.03 576.23 L406.86 574.12 L408.69 572.06 L410.52 570.04 L412.35 568.08 L414.18 566.21 L416.01 564.41 L417.84 562.66 L419.66 560.93 L421.49 559.19 L423.32 557.43 L425.15 555.62 L426.98 553.73 L428.81 551.74 L430.64 549.58 L432.47 547.29 L434.3 544.94 L436.13 542.62 L437.96 540.39 L439.79 538.34 L441.62 536.44 L443.45 534.6 L445.28 532.82 L447.11 531.09 L448.94 529.43 L450.77 527.82 L452.59 526.28 L454.42 524.81 L456.25 523.4 L458.08 522.04 L459.91 520.73 L461.74 519.46 L463.57 518.23 L465.4 517.04 L467.23 515.89 L469.06 514.78 L470.89 513.69 L472.72 512.64 L474.55 511.63 L476.38 510.67 L478.21 509.75 L480.04 508.87 L481.87 508.01 L483.7 507.15 L485.52 506.3 L487.35 505.43 L489.18 504.54 L491.01 503.61 L492.84 502.63 L494.67 501.62 L496.5 500.58 L498.33 499.53 L500.16 498.47 L501.99 497.42 L503.82 496.4 L505.65 495.42 L507.48 494.48 L509.31 493.61 L511.14 492.77 L512.97 491.96 L514.8 491.18 L516.63 490.42 L518.45 489.68 L520.28 488.96 L522.11 488.25 L523.94 487.55 L525.77 486.86 L527.6 486.17 L529.43 485.48 L531.26 484.8 L533.09 484.12 L534.92 483.46 L536.75 482.81 L538.58 482.18 L540.41 481.57 L542.24 480.99 L544.07 480.44 L545.9 479.92 L547.73 479.43 L549.56 478.95 L551.38 478.48 L553.21 478.04 L555.04 477.6 L556.87 477.18 L558.7 476.76 L560.53 476.35 L562.36 475.94 L564.19 475.53 L566.02 475.11 L567.85 474.69 L569.68 474.28 L571.51 473.89 L573.34 473.51 L575.17 473.15 L577 472.82 L578.83 472.53 L580.66 472.27 L582.49 472.04 L584.31 471.83 L586.14 471.63 L587.97 471.44 L589.8 471.26 L591.63 471.09 L593.46 470.93 L595.29 470.76 L597.12 470.6 L598.95 470.43 L600.78 470.26 L602.61 470.08 L604.44 469.9 L606.27 469.72 L608.1 469.56 L609.93 469.41 L611.76 469.28 L613.59 469.17 L615.42 469.09 L617.24 469.03 L619.07 468.97 L620.9 468.91 L622.73 468.86 L624.56 468.8 L626.39 468.75 L628.22 468.7 L630.05 468.65 L631.88 468.61 L633.71 468.57 L635.54 468.53 L637.37 468.5 L639.2 468.47 L641.03 468.44 L642.86 468.42 L644.69 468.4 L646.52 468.38 L648.35 468.37 L650.17 468.37 L652 468.36" fill="none" stroke="#c8232f" stroke-width="4.1" stroke-linejoin="round" stroke-linecap="butt"/>
<path d="M141.97 831.6 L143.26 830.84 L144.54 830.1 L145.83 829.4 L147.11 828.8 L148.4 828.31 L149.69 827.99 L150.97 827.78 L152.26 827.61 L153.54 827.47 L154.83 827.35 L156.11 827.25 L157.4 827.16 L158.69 827.07 L159.97 826.98 L161.26 826.89 L162.54 826.79 L163.83 826.66 L165.12 826.52 L166.4 826.35 L167.69 826.15 L168.97 825.94 L170.26 825.71 L171.55 825.46 L172.83 825.22 L174.12 824.96 L175.4 824.71 L176.69 824.46 L177.98 824.22 L179.26 823.99 L180.55 823.77 L181.83 823.56 L183.12 823.36 L184.4 823.17 L185.69 822.97 L186.98 822.78 L188.26 822.58 L189.55 822.37 L190.83 822.16 L192.12 821.93 L193.41 821.69 L194.69 821.43 L195.98 821.16 L197.26 820.87 L198.55 820.56 L199.84 820.23 L201.12 819.88 L202.41 819.52 L203.69 819.13 L204.98 818.73 L206.26 818.31 L207.55 817.87 L208.84 817.43 L210.12 816.96 L211.41 816.44 L212.69 815.85 L213.98 815.16 L215.27 814.33 L216.55 812.99 L217.84 811.2 L219.12 809.34 L220.41 807.74 L221.7 806.66 L222.98 805.87 L224.27 805.21 L225.55 804.56 L226.84 803.79 L228.13 802.79 L229.41 801.31 L230.7 799.34 L231.98 797.12 L233.27 794.87 L234.55 792.79 L235.84 791.05 L237.13 789.51 L238.41 788.07 L239.7 786.64 L240.98 785.16 L242.27 783.55 L243.56 781.81 L244.84 779.96 L246.13 778.05 L247.41 776.07 L248.7 774.06 L249.99 772.03 L251.27 770.01 L252.56 767.97 L253.84 765.83 L255.13 763.56 L256.42 761.09 L257.7 758.29 L258.99 755.14 L260.27 751.73 L261.56 748.15 L262.84 744.51 L264.13 740.91 L265.42 737.44 L266.7 734.2 L267.99 731.27 L269.27 728.57 L270.56 726.01 L271.85 723.55 L273.13 721.17 L274.42 718.84 L275.7 716.54 L276.99 714.22 L278.28 711.86 L279.56 709.44 L280.85 706.96 L282.13 704.52 L283.42 702.12 L284.71 699.72 L285.99 697.31 L287.28 694.86 L288.56 692.36 L289.85 689.78 L291.13 687.1 L292.42 684.31 L293.71 681.37 L294.99 678.23 L296.28 674.8 L297.56 671.14 L298.85 667.29 L300.14 663.33 L301.42 659.3 L302.71 655.25 L303.99 651.26 L305.28 647.36 L306.57 643.63 L307.85 640.11 L309.14 636.78 L310.42 633.55 L311.71 630.38 L313 627.29 L314.28 624.25 L315.57 621.27 L316.85 618.32 L318.14 615.4 L319.42 612.51 L320.71 609.64 L322 606.77 L323.28 603.9 L324.57 601.04 L325.85 598.2 L327.14 595.39 L328.43 592.6 L329.71 589.85 L331 587.13 L332.28 584.46 L333.57 581.84 L334.86 579.28 L336.14 576.78 L337.43 574.35 L338.71 571.97 L340 569.64 L341.28 567.35 L342.57 565.09 L343.86 562.87 L345.14 560.66 L346.43 558.47 L347.71 556.29 L349 554.11 L350.29 551.93 L351.57 549.73 L352.86 547.51 L354.14 545.3 L355.43 543.09 L356.72 540.91 L358 538.75 L359.29 536.63 L360.57 534.56 L361.86 532.55 L363.15 530.6 L364.43 528.74 L365.72 526.94 L367 525.19 L368.29 523.5 L369.57 521.84 L370.86 520.21 L372.15 518.61 L373.43 517.03 L374.72 515.45 L376 513.88 L377.29 512.31 L378.58 510.72 L379.86 509.1 L381.15 507.48 L382.43 505.86 L383.72 504.25 L385.01 502.66 L386.29 501.1 L387.58 499.57 L388.86 498.1 L390.15 496.69 L391.44 495.36 L392.72 494.08 L394.01 492.83 L395.29 491.61 L396.58 490.46 L397.86 489.38 L399.15 488.41 L400.44 487.56 L401.72 486.79 L403.01 486.06 L404.29 485.37 L405.58 484.7 L406.87 484.07 L408.15 483.47 L409.44 482.89 L410.72 482.33 L412.01 481.8 L413.3 481.29 L414.58 480.79 L415.87 480.31 L417.15 479.85 L418.44 479.39 L419.73 478.95 L421.01 478.51 L422.3 478.07 L423.58 477.65 L424.87 477.23 L426.15 476.83 L427.44 476.43 L428.73 476.05 L430.01 475.68 L431.3 475.32 L432.58 474.98 L433.87 474.65 L435.16 474.34 L436.44 474.05 L437.73 473.77 L439.01 473.52 L440.3 473.28 L441.59 473.04 L442.87 472.81 L444.16 472.58 L445.44 472.36 L446.73 472.15 L448.01 471.94 L449.3 471.73 L450.59 471.54 L451.87 471.35 L453.16 471.16 L454.44 470.99 L455.73 470.82 L457.02 470.66 L458.3 470.51 L459.59 470.37 L460.87 470.23 L462.16 470.11 L463.45 470 L464.73 469.9 L466.02 469.8 L467.3 469.72 L468.59 469.64 L469.88 469.56 L471.16 469.48 L472.45 469.41 L473.73 469.34 L475.02 469.28 L476.3 469.22 L477.59 469.16 L478.88 469.1 L480.16 469.05 L481.45 469 L482.73 468.95 L484.02 468.9 L485.31 468.86 L486.59 468.81 L487.88 468.77 L489.16 468.74 L490.45 468.7 L491.74 468.66 L493.02 468.63 L494.31 468.59 L495.59 468.56 L496.88 468.52 L498.17 468.49 L499.45 468.45 L500.74 468.42 L502.02 468.39 L503.31 468.36 L504.59 468.32 L505.88 468.3 L507.17 468.27 L508.45 468.24 L509.74 468.21 L511.02 468.19 L512.31 468.16 L513.6 468.14 L514.88 468.12 L516.17 468.1 L517.45 468.08 L518.74 468.06 L520.03 468.05 L521.31 468.03 L522.6 468.02 L523.88 468.01 L525.17 468.01 L526.46 468" fill="none" stroke="#2c4fa8" stroke-width="4.8" stroke-linejoin="round" stroke-linecap="butt"/>
</g>
<path d="M105 831.6h6.5M105 758.88h6.5M105 686.16h6.5M105 613.44h6.5M105 540.72h6.5M105 468h6.5M252.88 468v6.5M400.76 468v6.5M471.31 468v6.5M548.64 468v6.5M149.52 468v3.5M175.56 468v3.5M194.03 468v3.5M208.36 468v3.5M220.07 468v3.5M229.97 468v3.5M238.55 468v3.5M246.11 468v3.5M297.4 468v3.5M323.44 468v3.5M341.91 468v3.5M356.24 468v3.5M367.95 468v3.5M377.85 468v3.5M386.43 468v3.5M393.99 468v3.5M445.27 468v3.5M471.31 468v3.5M489.79 468v3.5M504.12 468v3.5M515.83 468v3.5M525.73 468v3.5M534.31 468v3.5M541.87 468v3.5M593.15 468v3.5M619.19 468v3.5M637.67 468v3.5" stroke="#262626" stroke-width="1.4" fill="none"/>
<rect x="105" y="468" width="547" height="363.6" fill="none" stroke="#262626" stroke-width="1.5"/>
<g>
<rect x="457.6" y="571.1" width="24.4" height="19.5" fill="#1e4ba0" fill-opacity="0.6" stroke="#1e4ba0" stroke-opacity="0.6" stroke-width="0.8"/>
<text x="488.6" y="591.9" font-size="31.5" text-anchor="start" fill="#000" >Pristine Bin</text>
<rect x="457.6" y="607.3" width="24.4" height="19.5" fill="#b71b2b" fill-opacity="0.6" stroke="#b71b2b" stroke-opacity="0.6" stroke-width="0.8"/>
<text x="488.6" y="628.1" font-size="31.5" text-anchor="start" fill="#000" >Optimal Bin</text>
</g>
<text x="111" y="492" font-size="36" text-anchor="start" fill="#000" >(c)</text>
<g stroke="#b8b8b8" stroke-width="1" stroke-dasharray="1.2 1.2" fill="none"><line x1="708" y1="819.48" x2="1251.4" y2="819.48"/><line x1="708" y1="807.36" x2="1251.4" y2="807.36"/><line x1="708" y1="795.24" x2="1251.4" y2="795.24"/><line x1="708" y1="783.12" x2="1251.4" y2="783.12"/><line x1="708" y1="771" x2="1251.4" y2="771"/><line x1="708" y1="746.76" x2="1251.4" y2="746.76"/><line x1="708" y1="734.64" x2="1251.4" y2="734.64"/><line x1="708" y1="722.52" x2="1251.4" y2="722.52"/><line x1="708" y1="710.4" x2="1251.4" y2="710.4"/><line x1="708" y1="698.28" x2="1251.4" y2="698.28"/><line x1="708" y1="674.04" x2="1251.4" y2="674.04"/><line x1="708" y1="661.92" x2="1251.4" y2="661.92"/><line x1="708" y1="649.8" x2="1251.4" y2="649.8"/><line x1="708" y1="637.68" x2="1251.4" y2="637.68"/><line x1="708" y1="625.56" x2="1251.4" y2="625.56"/><line x1="708" y1="601.32" x2="1251.4" y2="601.32"/><line x1="708" y1="589.2" x2="1251.4" y2="589.2"/><line x1="708" y1="577.08" x2="1251.4" y2="577.08"/><line x1="708" y1="564.96" x2="1251.4" y2="564.96"/><line x1="708" y1="552.84" x2="1251.4" y2="552.84"/><line x1="708" y1="528.6" x2="1251.4" y2="528.6"/><line x1="708" y1="516.48" x2="1251.4" y2="516.48"/><line x1="708" y1="504.36" x2="1251.4" y2="504.36"/><line x1="708" y1="492.24" x2="1251.4" y2="492.24"/><line x1="708" y1="480.12" x2="1251.4" y2="480.12"/></g>
<g stroke="#d9d9d9" stroke-width="1.3" fill="none"><line x1="708" y1="758.88" x2="1251.4" y2="758.88"/><line x1="708" y1="686.16" x2="1251.4" y2="686.16"/><line x1="708" y1="613.44" x2="1251.4" y2="613.44"/><line x1="708" y1="540.72" x2="1251.4" y2="540.72"/><line x1="829.04" y1="469" x2="829.04" y2="830.6"/><line x1="951.09" y1="469" x2="951.09" y2="830.6"/><line x1="1073.13" y1="469" x2="1073.13" y2="830.6"/><line x1="1131.36" y1="469" x2="1131.36" y2="830.6"/><line x1="1158.43" y1="469" x2="1158.43" y2="830.6"/><line x1="1195.17" y1="469" x2="1195.17" y2="830.6"/></g>
<g clip-path="url(#cd)">
<path d="M829.04 831.6V807.8H841.25V831.6ZM841.25 831.6V810.6H853.45V831.6ZM853.45 831.6V786.8H865.66V831.6ZM865.66 831.6V758.9H877.86V831.6ZM877.86 831.6V747.1H890.06V831.6ZM890.06 831.6V647.1H902.27V831.6ZM902.27 831.6V629.5H914.47V831.6ZM914.47 831.6V589.8H926.68V831.6ZM926.68 831.6V626.1H938.88V831.6ZM938.88 831.6V632.3H951.09V831.6ZM951.09 831.6V605.2H963.29V831.6ZM963.29 831.6V623.3H975.49V831.6ZM975.49 831.6V674.5H987.7V831.6ZM987.7 831.6V677.6H999.9V831.6ZM999.9 831.6V722.8H1012.11V831.6ZM1012.11 831.6V750.1H1024.31V831.6ZM1024.31 831.6V756.1H1036.52V831.6ZM1036.52 831.6V786.6H1048.72V831.6ZM1048.72 831.6V798.6H1060.92V831.6ZM1060.92 831.6V817.3H1073.13V831.6ZM1073.13 831.6V829.2H1085.33V831.6ZM1085.33 831.6V826H1097.54V831.6ZM1097.54 831.6V823.1H1109.74V831.6ZM1134.15 831.6V829.2H1146.35V831.6ZM1146.35 831.6V829.2H1158.56V831.6Z" fill="#1e4ba0" fill-opacity="0.6" stroke="#000" stroke-opacity="0.2" stroke-width="0.9"/>
<path d="M829.04 831.6V817.6H841.25V831.6ZM841.25 831.6V806.4H853.45V831.6ZM853.45 831.6V786.8H865.66V831.6ZM865.66 831.6V773.7H877.86V831.6ZM877.86 831.6V762.2H890.06V831.6ZM890.06 831.6V737.3H902.27V831.6ZM902.27 831.6V718.9H914.47V831.6ZM914.47 831.6V700.2H926.68V831.6ZM926.68 831.6V677H938.88V831.6ZM938.88 831.6V665.8H951.09V831.6ZM951.09 831.6V665.2H963.29V831.6ZM963.29 831.6V682.6H975.49V831.6ZM975.49 831.6V692.4H987.7V831.6ZM987.7 831.6V692.7H999.9V831.6ZM999.9 831.6V708.4H1012.11V831.6ZM1012.11 831.6V714.8H1024.31V831.6ZM1024.31 831.6V728.1H1036.52V831.6ZM1036.52 831.6V751.4H1048.72V831.6ZM1048.72 831.6V758.7H1060.92V831.6ZM1060.92 831.6V749.2H1073.13V831.6ZM1073.13 831.6V766.8H1085.33V831.6ZM1085.33 831.6V781.2H1097.54V831.6ZM1097.54 831.6V793H1109.74V831.6ZM1109.74 831.6V788.3H1121.95V831.6ZM1121.95 831.6V797.6H1134.15V831.6ZM1134.15 831.6V801.2H1146.35V831.6ZM1146.35 831.6V806H1158.56V831.6ZM1158.56 831.6V814.5H1170.76V831.6ZM1170.76 831.6V817.6H1182.97V831.6ZM1182.97 831.6V818.8H1195.17V831.6ZM1195.17 831.6V821.6H1207.38V831.6ZM1207.38 831.6V828.1H1219.58V831.6ZM1219.58 831.6V828.7H1231.78V831.6ZM1231.78 831.6V828.7H1243.99V831.6ZM1243.99 831.6V829.6H1256.19V831.6Z" fill="#b71b2b" fill-opacity="0.6" stroke="#000" stroke-opacity="0.2" stroke-width="0.9"/>
<path d="M736.66 831.6 L738.38 831.59 L740.11 831.58 L741.84 831.57 L743.57 831.56 L745.3 831.54 L747.03 831.52 L748.75 831.5 L750.48 831.48 L752.21 831.46 L753.94 831.43 L755.67 831.4 L757.39 831.37 L759.12 831.34 L760.85 831.31 L762.58 831.27 L764.31 831.24 L766.04 831.2 L767.76 831.16 L769.49 831.12 L771.22 831.09 L772.95 831.05 L774.68 831.01 L776.4 830.96 L778.13 830.92 L779.86 830.88 L781.59 830.84 L783.32 830.79 L785.05 830.74 L786.77 830.68 L788.5 830.62 L790.23 830.56 L791.96 830.49 L793.69 830.42 L795.41 830.35 L797.14 830.27 L798.87 830.2 L800.6 830.12 L802.33 830.04 L804.06 829.95 L805.78 829.87 L807.51 829.78 L809.24 829.69 L810.97 829.6 L812.7 829.5 L814.42 829.4 L816.15 829.29 L817.88 829.18 L819.61 829.06 L821.34 828.94 L823.07 828.81 L824.79 828.68 L826.52 828.54 L828.25 828.4 L829.98 828.24 L831.71 828.07 L833.44 827.88 L835.16 827.68 L836.89 827.45 L838.62 827.21 L840.35 826.95 L842.08 826.68 L843.8 826.38 L845.53 826.07 L847.26 825.72 L848.99 825.32 L850.72 824.89 L852.45 824.4 L854.17 823.84 L855.9 823.14 L857.63 822.29 L859.36 821.32 L861.09 820.28 L862.81 819.21 L864.54 818.16 L866.27 817.09 L868 815.99 L869.73 814.85 L871.46 813.66 L873.18 812.43 L874.91 811.16 L876.64 809.85 L878.37 808.48 L880.1 807.06 L881.82 805.59 L883.55 804.06 L885.28 802.49 L887.01 800.86 L888.74 799.17 L890.47 797.42 L892.19 795.61 L893.92 793.74 L895.65 791.8 L897.38 789.81 L899.11 787.73 L900.83 785.57 L902.56 783.33 L904.29 781.05 L906.02 778.73 L907.75 776.38 L909.48 774.01 L911.2 771.6 L912.93 769.15 L914.66 766.65 L916.39 764.09 L918.12 761.46 L919.84 758.79 L921.57 756.09 L923.3 753.32 L925.03 750.47 L926.76 747.51 L928.49 744.41 L930.21 741.14 L931.94 737.6 L933.67 733.87 L935.4 730.05 L937.13 726.23 L938.85 722.51 L940.58 718.92 L942.31 715.4 L944.04 711.91 L945.77 708.44 L947.5 704.96 L949.22 701.45 L950.95 697.9 L952.68 694.3 L954.41 690.67 L956.14 687.01 L957.86 683.35 L959.59 679.69 L961.32 676.05 L963.05 672.45 L964.78 668.89 L966.51 665.32 L968.23 661.75 L969.96 658.17 L971.69 654.61 L973.42 651.08 L975.15 647.6 L976.87 644.18 L978.6 640.85 L980.33 637.62 L982.06 634.5 L983.79 631.45 L985.52 628.47 L987.24 625.56 L988.97 622.7 L990.7 619.89 L992.43 617.12 L994.16 614.4 L995.88 611.71 L997.61 609.05 L999.34 606.42 L1001.07 603.82 L1002.8 601.25 L1004.53 598.72 L1006.25 596.22 L1007.98 593.75 L1009.71 591.31 L1011.44 588.89 L1013.17 586.51 L1014.89 584.15 L1016.62 581.82 L1018.35 579.51 L1020.08 577.2 L1021.81 574.89 L1023.54 572.59 L1025.26 570.31 L1026.99 568.04 L1028.72 565.81 L1030.45 563.62 L1032.18 561.47 L1033.91 559.37 L1035.63 557.34 L1037.36 555.38 L1039.09 553.5 L1040.82 551.7 L1042.55 549.97 L1044.27 548.31 L1046 546.71 L1047.73 545.15 L1049.46 543.64 L1051.19 542.16 L1052.92 540.69 L1054.64 539.25 L1056.37 537.81 L1058.1 536.36 L1059.83 534.91 L1061.56 533.44 L1063.28 531.95 L1065.01 530.46 L1066.74 528.99 L1068.47 527.52 L1070.2 526.07 L1071.93 524.61 L1073.65 523.15 L1075.38 521.69 L1077.11 520.23 L1078.84 518.75 L1080.57 517.27 L1082.29 515.77 L1084.02 514.2 L1085.75 512.56 L1087.48 510.91 L1089.21 509.3 L1090.94 507.78 L1092.66 506.41 L1094.39 505.23 L1096.12 504.15 L1097.85 503.14 L1099.58 502.19 L1101.3 501.3 L1103.03 500.43 L1104.76 499.59 L1106.49 498.76 L1108.22 497.94 L1109.95 497.16 L1111.67 496.42 L1113.4 495.69 L1115.13 494.97 L1116.86 494.24 L1118.59 493.49 L1120.31 492.69 L1122.04 491.82 L1123.77 490.89 L1125.5 489.93 L1127.23 488.96 L1128.96 488.01 L1130.68 487.11 L1132.41 486.29 L1134.14 485.58 L1135.87 484.94 L1137.6 484.34 L1139.32 483.78 L1141.05 483.24 L1142.78 482.72 L1144.51 482.2 L1146.24 481.68 L1147.97 481.14 L1149.69 480.58 L1151.42 480.02 L1153.15 479.47 L1154.88 478.93 L1156.61 478.41 L1158.33 477.94 L1160.06 477.5 L1161.79 477.11 L1163.52 476.75 L1165.25 476.41 L1166.98 476.09 L1168.7 475.78 L1170.43 475.47 L1172.16 475.18 L1173.89 474.87 L1175.62 474.58 L1177.34 474.29 L1179.07 474 L1180.8 473.72 L1182.53 473.45 L1184.26 473.17 L1185.99 472.89 L1187.71 472.61 L1189.44 472.31 L1191.17 471.99 L1192.9 471.68 L1194.63 471.37 L1196.35 471.08 L1198.08 470.82 L1199.81 470.6 L1201.54 470.41 L1203.27 470.23 L1205 470.05 L1206.72 469.89 L1208.45 469.75 L1210.18 469.63 L1211.91 469.53 L1213.64 469.45 L1215.37 469.4 L1217.09 469.34 L1218.82 469.29 L1220.55 469.24 L1222.28 469.19 L1224.01 469.14 L1225.73 469.1 L1227.46 469.05 L1229.19 469.01 L1230.92 468.98 L1232.65 468.94 L1234.38 468.91 L1236.1 468.88 L1237.83 468.85 L1239.56 468.82 L1241.29 468.8 L1243.02 468.78 L1244.74 468.77 L1246.47 468.75 L1248.2 468.74 L1249.93 468.73 L1251.66 468.73 L1253.39 468.73" fill="none" stroke="#c8232f" stroke-width="4.1" stroke-linejoin="round" stroke-linecap="butt"/>
<path d="M830.26 831.6 L831.36 831.28 L832.46 830.91 L833.56 830.5 L834.66 830.04 L835.75 829.48 L836.85 828.83 L837.95 828.11 L839.05 827.38 L840.14 826.65 L841.24 825.98 L842.34 825.39 L843.44 824.91 L844.54 824.52 L845.63 824.17 L846.73 823.86 L847.83 823.58 L848.93 823.3 L850.03 823.01 L851.12 822.71 L852.22 822.37 L853.32 821.98 L854.42 821.53 L855.52 821.01 L856.61 820.43 L857.71 819.8 L858.81 819.12 L859.91 818.41 L861.01 817.68 L862.1 816.93 L863.2 816.17 L864.3 815.41 L865.4 814.66 L866.5 813.88 L867.59 813.08 L868.69 812.27 L869.79 811.43 L870.89 810.57 L871.99 809.68 L873.08 808.78 L874.18 807.85 L875.28 806.89 L876.38 805.93 L877.48 804.99 L878.57 804.03 L879.67 803.05 L880.77 802.03 L881.87 800.94 L882.97 799.78 L884.06 798.52 L885.16 797.15 L886.26 795.64 L887.36 793.74 L888.46 791.49 L889.55 789.06 L890.65 786.63 L891.75 784.38 L892.85 782.26 L893.95 780.18 L895.04 778.07 L896.14 775.86 L897.24 773.46 L898.34 770.69 L899.44 767.75 L900.53 764.9 L901.63 762.4 L902.73 760.47 L903.83 758.96 L904.93 757.64 L906.02 756.32 L907.12 754.79 L908.22 752.91 L909.32 750.75 L910.42 748.35 L911.51 745.72 L912.61 742.89 L913.71 739.71 L914.81 735.96 L915.91 731.9 L917 727.85 L918.1 724.11 L919.2 720.8 L920.3 717.63 L921.4 714.58 L922.49 711.62 L923.59 708.75 L924.69 705.94 L925.79 703.2 L926.89 700.49 L927.98 697.82 L929.08 695.19 L930.18 692.66 L931.28 690.2 L932.37 687.79 L933.47 685.41 L934.57 683.05 L935.67 680.68 L936.77 678.28 L937.86 675.82 L938.96 673.3 L940.06 670.71 L941.16 668.12 L942.26 665.52 L943.35 662.91 L944.45 660.25 L945.55 657.54 L946.65 654.77 L947.75 651.91 L948.84 648.95 L949.94 645.88 L951.04 642.66 L952.14 639.22 L953.24 635.58 L954.33 631.8 L955.43 627.91 L956.53 623.97 L957.63 620.03 L958.73 616.12 L959.82 612.3 L960.92 608.55 L962.02 604.67 L963.12 600.72 L964.22 596.79 L965.31 592.96 L966.41 589.34 L967.51 585.99 L968.61 583.03 L969.71 580.38 L970.8 577.9 L971.9 575.58 L973 573.39 L974.1 571.33 L975.2 569.36 L976.29 567.48 L977.39 565.67 L978.49 564.06 L979.59 562.62 L980.69 561.23 L981.78 559.81 L982.88 558.25 L983.98 556.46 L985.08 554.25 L986.18 551.58 L987.27 548.63 L988.37 545.52 L989.47 542.43 L990.57 539.49 L991.67 536.87 L992.76 534.71 L993.86 532.81 L994.96 531.06 L996.06 529.42 L997.16 527.87 L998.25 526.39 L999.35 524.93 L1000.45 523.48 L1001.55 522.01 L1002.65 520.57 L1003.74 519.17 L1004.84 517.79 L1005.94 516.44 L1007.04 515.11 L1008.14 513.79 L1009.23 512.48 L1010.33 511.18 L1011.43 509.89 L1012.53 508.59 L1013.63 507.27 L1014.72 505.93 L1015.82 504.59 L1016.92 503.25 L1018.02 501.94 L1019.12 500.67 L1020.21 499.45 L1021.31 498.29 L1022.41 497.2 L1023.51 496.21 L1024.6 495.29 L1025.7 494.42 L1026.8 493.6 L1027.9 492.81 L1029 492.06 L1030.09 491.32 L1031.19 490.61 L1032.29 489.9 L1033.39 489.19 L1034.49 488.48 L1035.58 487.76 L1036.68 487.02 L1037.78 486.25 L1038.88 485.43 L1039.98 484.57 L1041.07 483.69 L1042.17 482.79 L1043.27 481.89 L1044.37 481.01 L1045.47 480.16 L1046.56 479.35 L1047.66 478.6 L1048.76 477.93 L1049.86 477.34 L1050.96 476.85 L1052.05 476.45 L1053.15 476.08 L1054.25 475.72 L1055.35 475.38 L1056.45 475.06 L1057.54 474.75 L1058.64 474.47 L1059.74 474.2 L1060.84 473.95 L1061.94 473.72 L1063.03 473.5 L1064.13 473.3 L1065.23 473.12 L1066.33 472.95 L1067.43 472.8 L1068.52 472.66 L1069.62 472.53 L1070.72 472.41 L1071.82 472.29 L1072.92 472.18 L1074.01 472.07 L1075.11 471.97 L1076.21 471.86 L1077.31 471.77 L1078.41 471.68 L1079.5 471.59 L1080.6 471.5 L1081.7 471.42 L1082.8 471.34 L1083.9 471.27 L1084.99 471.19 L1086.09 471.12 L1087.19 471.05 L1088.29 470.99 L1089.39 470.92 L1090.48 470.86 L1091.58 470.79 L1092.68 470.73 L1093.78 470.67 L1094.88 470.61 L1095.97 470.55 L1097.07 470.49 L1098.17 470.43 L1099.27 470.38 L1100.37 470.32 L1101.46 470.27 L1102.56 470.22 L1103.66 470.17 L1104.76 470.12 L1105.86 470.07 L1106.95 470.02 L1108.05 469.98 L1109.15 469.93 L1110.25 469.89 L1111.35 469.84 L1112.44 469.8 L1113.54 469.76 L1114.64 469.72 L1115.74 469.68 L1116.83 469.64 L1117.93 469.6 L1119.03 469.56 L1120.13 469.52 L1121.23 469.48 L1122.32 469.44 L1123.42 469.4 L1124.52 469.36 L1125.62 469.33 L1126.72 469.29 L1127.81 469.25 L1128.91 469.21 L1130.01 469.18 L1131.11 469.14 L1132.21 469.1 L1133.3 469.07 L1134.4 469.04 L1135.5 469 L1136.6 468.97 L1137.7 468.94 L1138.79 468.91 L1139.89 468.88 L1140.99 468.85 L1142.09 468.82 L1143.19 468.79 L1144.28 468.77 L1145.38 468.75 L1146.48 468.72 L1147.58 468.7 L1148.68 468.68 L1149.77 468.67 L1150.87 468.65 L1151.97 468.63 L1153.07 468.61 L1154.17 468.6 L1155.26 468.58 L1156.36 468.57 L1157.46 468.56 L1158.56 468.55" fill="none" stroke="#2c4fa8" stroke-width="4.8" stroke-linejoin="round" stroke-linecap="butt"/>
</g>
<path d="M707 831.6h6.5M707 758.88h6.5M707 686.16h6.5M707 613.44h6.5M707 540.72h6.5M707 468h6.5M1253.4 831.6h-6.5M1253.4 758.88h-6.5M1253.4 686.16h-6.5M1253.4 613.44h-6.5M1253.4 540.72h-6.5M1253.4 468h-6.5M829.04 468v6.5M951.09 468v6.5M1073.13 468v6.5M1131.36 468v6.5M1158.43 468v6.5M1195.17 468v6.5M743.74 468v3.5M765.23 468v3.5M780.48 468v3.5M792.3 468v3.5M801.97 468v3.5M810.14 468v3.5M817.22 468v3.5M823.46 468v3.5M865.78 468v3.5M887.27 468v3.5M902.52 468v3.5M914.35 468v3.5M924.01 468v3.5M932.18 468v3.5M939.26 468v3.5M945.5 468v3.5M987.82 468v3.5M1009.31 468v3.5M1024.56 468v3.5M1036.39 468v3.5M1046.05 468v3.5M1054.22 468v3.5M1061.3 468v3.5M1067.54 468v3.5M1109.87 468v3.5M1131.36 468v3.5M1146.61 468v3.5M1158.43 468v3.5M1168.1 468v3.5M1176.27 468v3.5M1183.34 468v3.5M1189.59 468v3.5M1231.91 468v3.5" stroke="#262626" stroke-width="1.4" fill="none"/>
<rect x="707" y="468" width="546.4" height="363.6" fill="none" stroke="#262626" stroke-width="1.5"/>
<g>
<rect x="1059" y="571.1" width="24.4" height="19.5" fill="#1e4ba0" fill-opacity="0.6" stroke="#1e4ba0" stroke-opacity="0.6" stroke-width="0.8"/>
<text x="1090" y="591.9" font-size="31.5" text-anchor="start" fill="#000" >Pristine Bin</text>
<rect x="1059" y="607.3" width="24.4" height="19.5" fill="#b71b2b" fill-opacity="0.6" stroke="#b71b2b" stroke-opacity="0.6" stroke-width="0.8"/>
<text x="1090" y="628.1" font-size="31.5" text-anchor="start" fill="#000" >Optimal Bin</text>
</g>
<text x="712" y="492" font-size="36" text-anchor="start" fill="#000" >(d)</text>
<text x="95.5" y="387" font-size="32" text-anchor="end" fill="#1e1e1e" >0</text>
<text x="95.5" y="314.14" font-size="32" text-anchor="end" fill="#1e1e1e" >0.03</text>
<text x="95.5" y="241.28" font-size="32" text-anchor="end" fill="#1e1e1e" >0.06</text>
<text x="95.5" y="168.42" font-size="32" text-anchor="end" fill="#1e1e1e" >0.09</text>
<text x="95.5" y="95.56" font-size="32" text-anchor="end" fill="#1e1e1e" >0.12</text>
<text x="95.5" y="22.7" font-size="32" text-anchor="end" fill="#1e1e1e" >0.15</text>
<text x="95.5" y="842.6" font-size="32" text-anchor="end" fill="#1e1e1e" >0</text>
<text x="95.5" y="769.88" font-size="32" text-anchor="end" fill="#1e1e1e" >0.03</text>
<text x="95.5" y="697.16" font-size="32" text-anchor="end" fill="#1e1e1e" >0.06</text>
<text x="95.5" y="624.44" font-size="32" text-anchor="end" fill="#1e1e1e" >0.09</text>
<text x="95.5" y="551.72" font-size="32" text-anchor="end" fill="#1e1e1e" >0.12</text>
<text x="95.5" y="479" font-size="32" text-anchor="end" fill="#1e1e1e" >0.15</text>
<text x="1263" y="387" font-size="32" text-anchor="start" fill="#1e1e1e" >0</text>
<text x="1263" y="314.14" font-size="32" text-anchor="start" fill="#1e1e1e" >0.2</text>
<text x="1263" y="241.28" font-size="32" text-anchor="start" fill="#1e1e1e" >0.4</text>
<text x="1263" y="168.42" font-size="32" text-anchor="start" fill="#1e1e1e" >0.6</text>
<text x="1263" y="95.56" font-size="32" text-anchor="start" fill="#1e1e1e" >0.8</text>
<text x="1263" y="22.7" font-size="32" text-anchor="start" fill="#1e1e1e" >1</text>
<text x="1263" y="842.6" font-size="32" text-anchor="start" fill="#1e1e1e" >0</text>
<text x="1263" y="769.88" font-size="32" text-anchor="start" fill="#1e1e1e" >0.2</text>
<text x="1263" y="697.16" font-size="32" text-anchor="start" fill="#1e1e1e" >0.4</text>
<text x="1263" y="624.44" font-size="32" text-anchor="start" fill="#1e1e1e" >0.6</text>
<text x="1263" y="551.72" font-size="32" text-anchor="start" fill="#1e1e1e" >0.8</text>
<text x="1263" y="479" font-size="32" text-anchor="start" fill="#1e1e1e" >1</text>
<text x="173.38" y="415.3" font-size="32" text-anchor="middle" fill="#1e1e1e" >200</text>
<text x="310.12" y="415.3" font-size="32" text-anchor="middle" fill="#1e1e1e" >210</text>
<text x="446.88" y="415.3" font-size="32" text-anchor="middle" fill="#1e1e1e" >220</text>
<text x="583.62" y="415.3" font-size="32" text-anchor="middle" fill="#1e1e1e" >230</text>
<text x="707" y="415.3" font-size="32" text-anchor="middle" fill="#1e1e1e" >0</text>
<text x="785.06" y="415.3" font-size="32" text-anchor="middle" fill="#1e1e1e" >5</text>
<text x="863.11" y="415.3" font-size="32" text-anchor="middle" fill="#1e1e1e" >10</text>
<text x="941.17" y="415.3" font-size="32" text-anchor="middle" fill="#1e1e1e" >15</text>
<text x="1019.23" y="415.3" font-size="32" text-anchor="middle" fill="#1e1e1e" >20</text>
<text x="1097.29" y="415.3" font-size="32" text-anchor="middle" fill="#1e1e1e" >25</text>
<text x="1175.34" y="415.3" font-size="32" text-anchor="middle" fill="#1e1e1e" >30</text>
<text x="1253.4" y="415.3" font-size="32" text-anchor="middle" fill="#1e1e1e" >35</text>
<text x="105" y="871.1" font-size="32" text-anchor="middle" fill="#1e1e1e" >0.01</text>
<text x="252.88" y="871.1" font-size="32" text-anchor="middle" fill="#1e1e1e" >0.1</text>
<text x="400.76" y="871.1" font-size="32" text-anchor="middle" fill="#1e1e1e" >1</text>
<text x="471.31" y="871.1" font-size="32" text-anchor="middle" fill="#1e1e1e" >3</text>
<text x="548.64" y="871.1" font-size="32" text-anchor="middle" fill="#1e1e1e" >10</text>
<text x="652" y="871.1" font-size="32" text-anchor="middle" fill="#1e1e1e" >50</text>
<text x="707" y="871.1" font-size="32" text-anchor="middle" fill="#1e1e1e" >0.001</text>
<text x="829.04" y="871.1" font-size="32" text-anchor="middle" fill="#1e1e1e" >0.01</text>
<text x="951.09" y="871.1" font-size="32" text-anchor="middle" fill="#1e1e1e" >0.1</text>
<text x="1073.13" y="871.1" font-size="32" text-anchor="middle" fill="#1e1e1e" >1</text>
<text x="1131.36" y="871.1" font-size="32" text-anchor="middle" fill="#1e1e1e" >3</text>
<text x="1158.43" y="871.1" font-size="32" text-anchor="middle" fill="#1e1e1e" >5</text>
<text x="1195.17" y="871.1" font-size="32" text-anchor="middle" fill="#1e1e1e" >10</text>
<text x="1253.4" y="871.1" font-size="32" text-anchor="middle" fill="#1e1e1e" >30</text>
<text x="378.5" y="455.5" font-size="35" text-anchor="middle" fill="#1e1e1e" >BT of Core (K)</text>
<text x="980.2" y="455.5" font-size="35" text-anchor="middle" fill="#1e1e1e" >Duration (h)</text>
<text x="379" y="921.2" font-size="35" text-anchor="middle" fill="#1e1e1e">Total Area (10<tspan font-size="29" dy="-16">6</tspan><tspan dy="16"> km</tspan><tspan font-size="29" dy="-16">2</tspan><tspan dy="16">)</tspan></text>
<text x="980.4" y="921.2" font-size="35" text-anchor="middle" fill="#1e1e1e">Rainfall Amount (km<tspan font-size="29" dy="-16">3</tspan><tspan dy="16">)</tspan></text>
<text transform="translate(25.3 388.6) rotate(-90)" font-size="35" text-anchor="middle" fill="#1e1e1e">Probability Distribution Function</text>
<text transform="translate(1347.8 383.2) rotate(-90)" font-size="35" text-anchor="middle" fill="#1e1e1e">Cumulative Distribution Function</text>
</svg>
</body></html>
